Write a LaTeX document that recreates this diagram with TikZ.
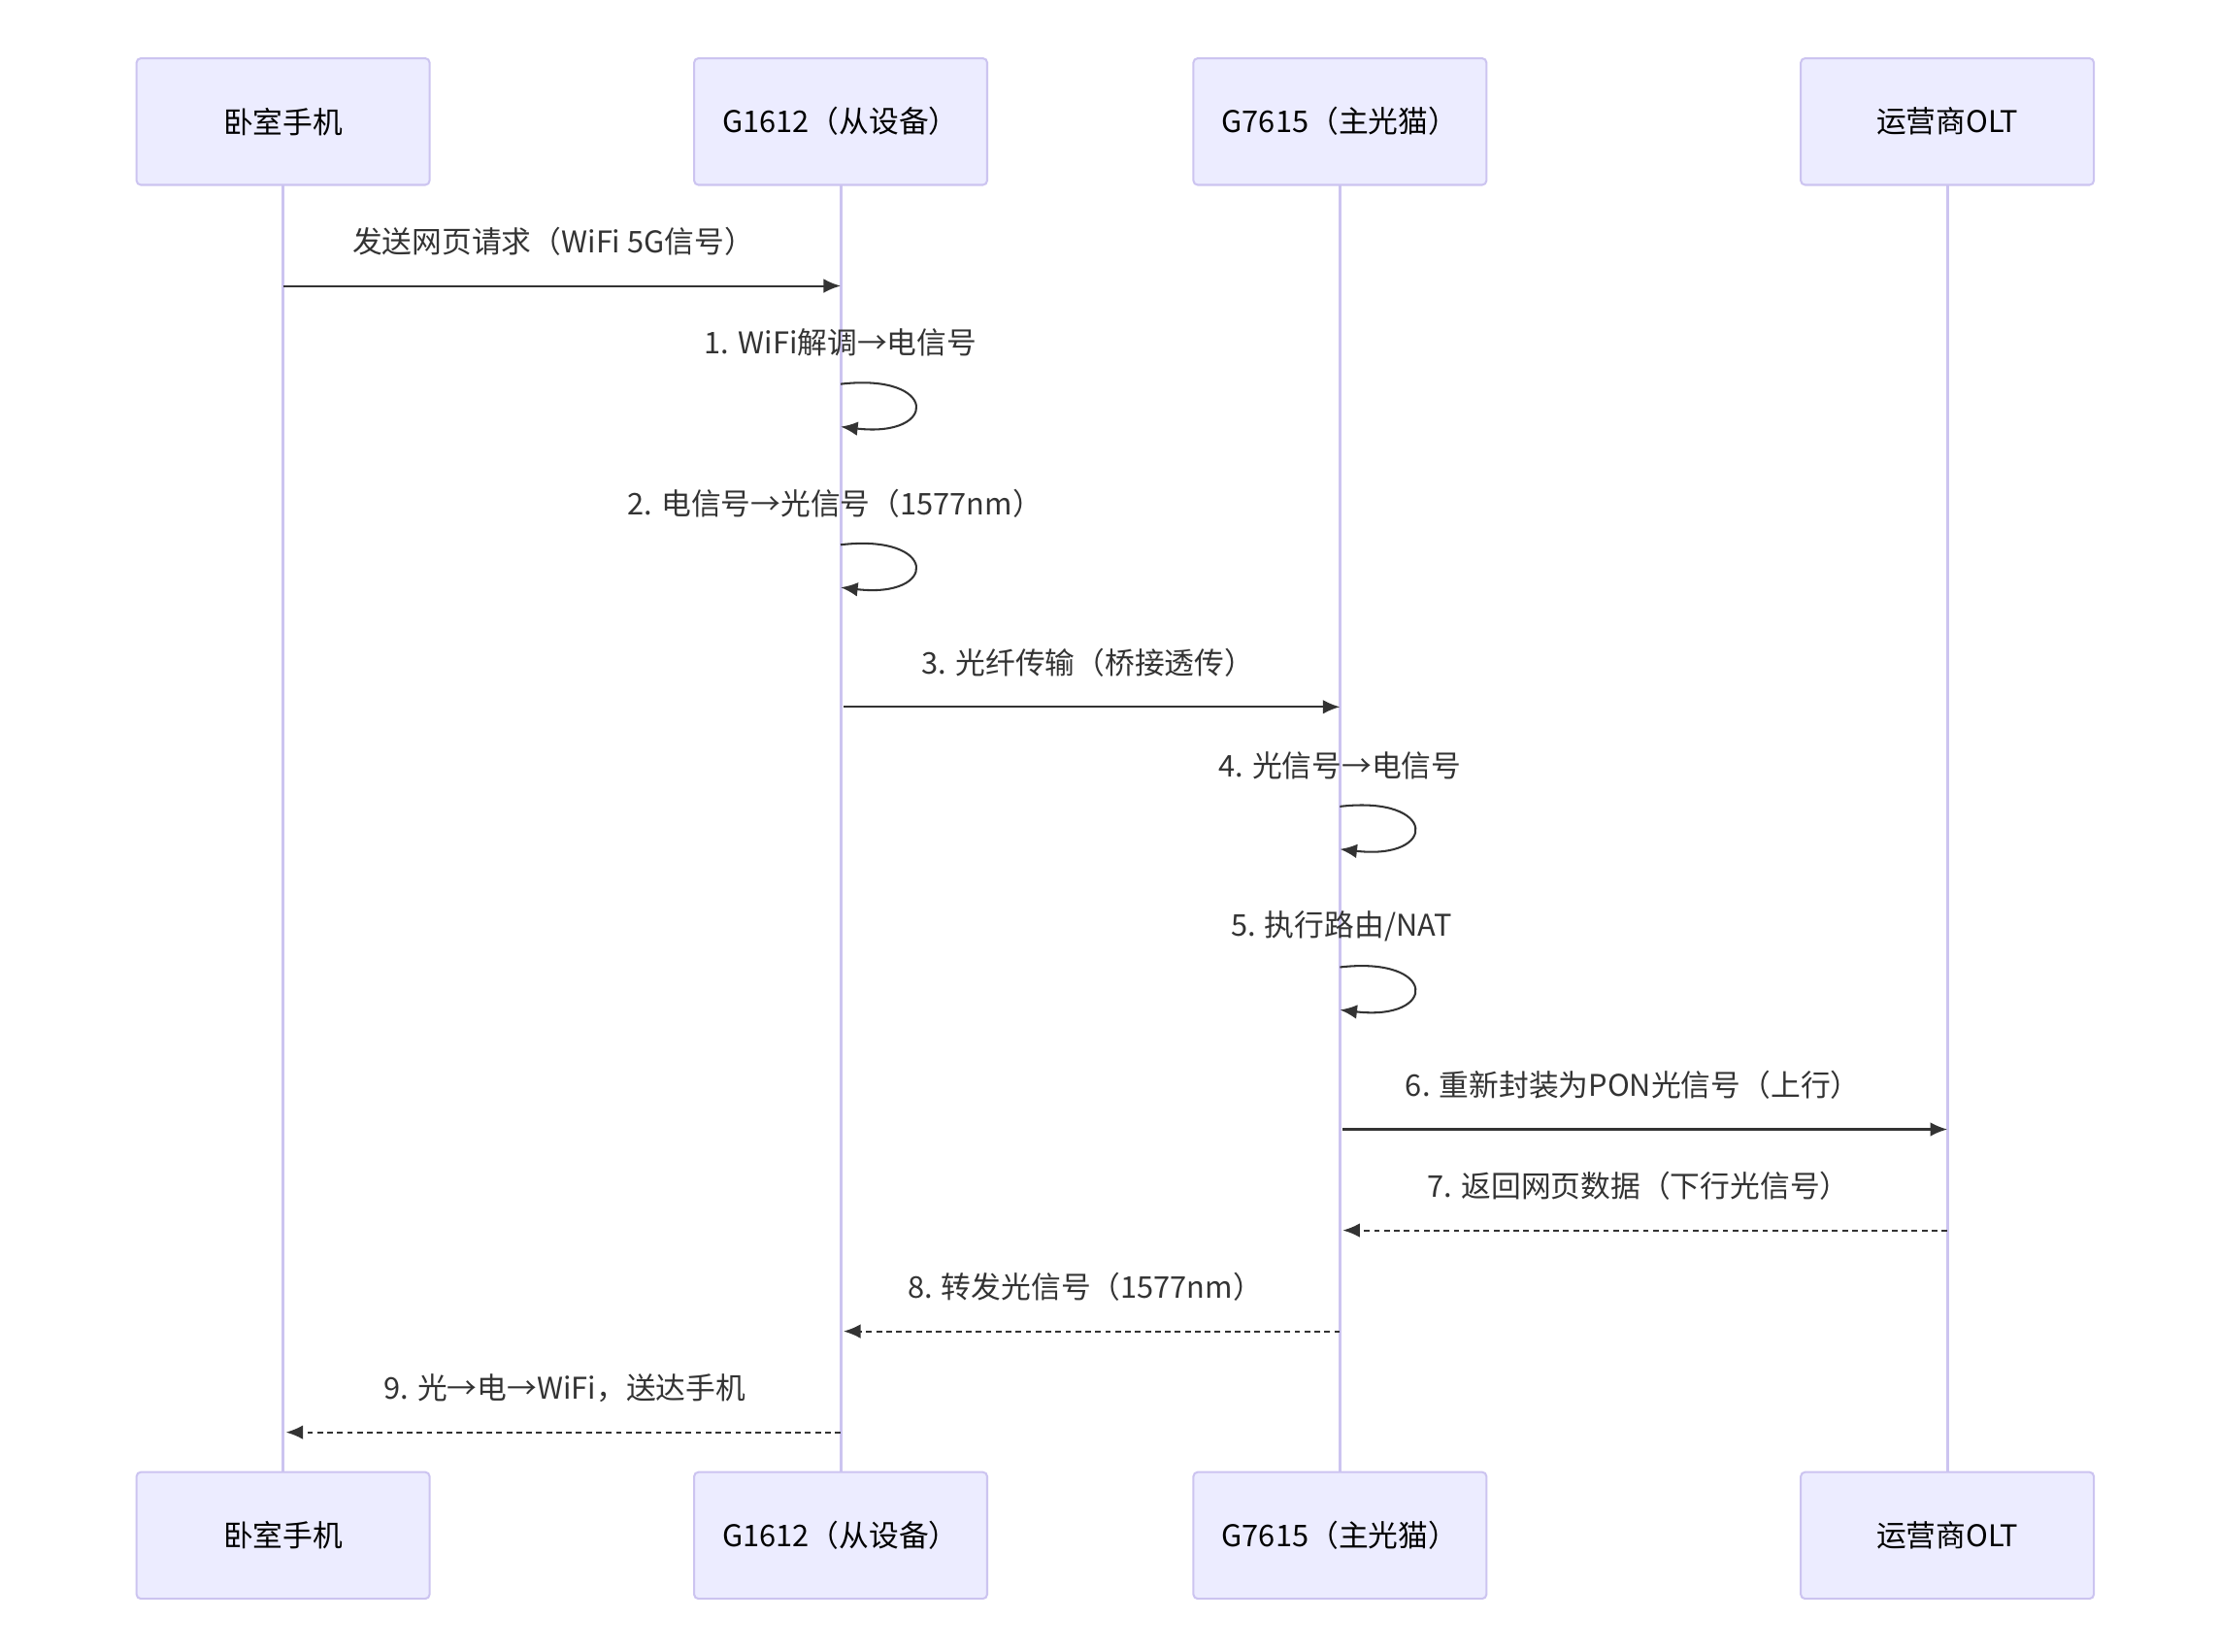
\documentclass[tikz,border=0pt]{standalone}
\usepackage{fontspec}
\setmainfont{Noto Sans CJK SC}
\usetikzlibrary{arrows.meta}
\definecolor{boxfill}{HTML}{ECECFF}
\definecolor{boxline}{HTML}{CCC4F0}
\definecolor{ink}{HTML}{333333}
\begin{document}
\begin{tikzpicture}[x=0.5pt,y=-0.5pt,font=\fontsize{10.5}{12}\selectfont,
  actor/.style={draw=boxline,fill=boxfill,line width=0.7pt,rounded corners=1.5pt,minimum width=103pt,minimum height=44.5pt,inner sep=0pt,text=black},
  life/.style={draw=boxline,line width=1pt},
  msg/.style={draw=ink,line width=0.7pt,-{Latex[length=6pt,width=5pt]}},
  rep/.style={msg,dash pattern=on 2pt off 1.5pt},
  lbl/.style={text=ink,inner sep=0pt}]
\useasboundingbox (0,0) rectangle (1560,1161);
\foreach \n/\x/\t in {a/199/卧室手机,b/591/G1612（从设备）,c/942/G7615（主光猫）,d/1369/运营商OLT}{
  \draw[life] (\x,130) -- (\x,1035);
  \node[actor] (\n1) at (\x,85.5) {\t};
  \node[actor] (\n2) at (\x,1079.5) {\t};
}
% messages
\coordinate (m1s) at (199,201); \coordinate (m1e) at (591,201);
\draw[msg] (m1s) -- (m1e);
\node[lbl] (l1) at (389,170) {发送网页请求（WiFi 5G信号）};
\node[lbl] (l2) at (591,241) {1. WiFi解调→电信号};
\coordinate (s1a) at (591,270); \coordinate (s1b) at (591,300);
\draw[msg] (s1a) .. controls (660,262) and (660,308) .. (s1b);
\node[lbl] (l3) at (587,354) {2. 电信号→光信号（1577nm）};
\coordinate (s2a) at (591,383); \coordinate (s2b) at (591,413);
\draw[msg] (s2a) .. controls (660,375) and (660,421) .. (s2b);
\coordinate (m3s) at (593,497); \coordinate (m3e) at (942,497);
\draw[msg] (m3s) -- (m3e);
\node[lbl] (l4) at (765,466) {3. 光纤传输（桥接透传）};
\node[lbl] (l5) at (942,538) {4. 光信号→电信号};
\coordinate (s3a) at (942,567); \coordinate (s3b) at (942,597);
\draw[msg] (s3a) .. controls (1011,559) and (1011,605) .. (s3b);
\node[lbl] (l6) at (943,651) {5. 执行路由/NAT};
\coordinate (s4a) at (942,680); \coordinate (s4b) at (942,710);
\draw[msg] (s4a) .. controls (1011,672) and (1011,718) .. (s4b);
\coordinate (m6s) at (944,794); \coordinate (m6e) at (1369,794);
\draw[msg] (m6s) -- (m6e);
\node[lbl] (l7) at (1148,763) {6. 重新封装为PON光信号（上行）};
\coordinate (m7s) at (1369,865); \coordinate (m7e) at (944,865);
\draw[rep] (m7s) -- (m7e);
\node[lbl] (l8) at (1152,834) {7. 返回网页数据（下行光信号）};
\coordinate (m8s) at (942,936); \coordinate (m8e) at (593,936);
\draw[rep] (m8s) -- (m8e);
\node[lbl] (l9) at (763,905) {8. 转发光信号（1577nm）};
\coordinate (m9s) at (591,1007); \coordinate (m9e) at (201,1007);
\draw[rep] (m9s) -- (m9e);
\node[lbl] (l10) at (397,976) {9. 光→电→WiFi，送达手机};
\end{tikzpicture}
\end{document}
